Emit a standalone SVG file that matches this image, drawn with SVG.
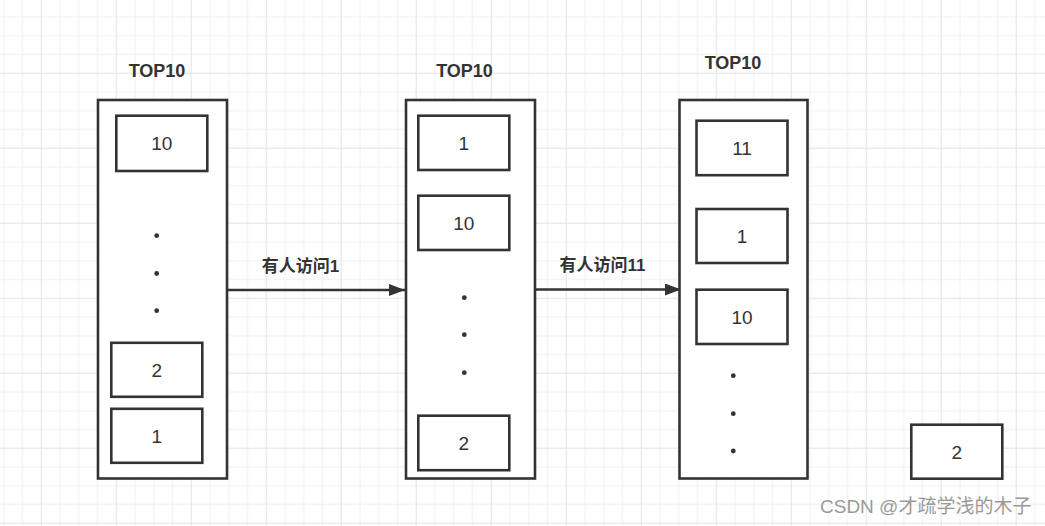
<svg xmlns="http://www.w3.org/2000/svg" width="1045" height="526" viewBox="0 0 1045 526">
  <defs>
    <pattern id="grid" x="40.7" y="72.7" width="75" height="75" patternUnits="userSpaceOnUse">
      <rect x="0" y="0" width="75" height="75" fill="#ffffff"/>
      <rect x="18.75" y="0" width="1" height="75" fill="#f0f0f0"/>
      <rect x="37.5" y="0" width="1" height="75" fill="#f0f0f0"/>
      <rect x="56.25" y="0" width="1" height="75" fill="#f0f0f0"/>
      <rect x="0" y="18.75" width="75" height="1" fill="#f0f0f0"/>
      <rect x="0" y="37.5" width="75" height="1" fill="#f0f0f0"/>
      <rect x="0" y="56.25" width="75" height="1" fill="#f0f0f0"/>
      <rect x="0" y="0" width="1" height="75" fill="#e3e3e3"/>
      <rect x="0" y="0" width="75" height="1" fill="#e3e3e3"/>
    </pattern>
    <marker id="arrow" viewBox="0 0 16 12" refX="16" refY="6" markerWidth="16" markerHeight="12" markerUnits="userSpaceOnUse" orient="auto">
      <path d="M0,0 L16,6 L0,12 Z" fill="#333333"/>
    </marker>
    <style>
      .box { fill: #ffffff; stroke: #333333; stroke-width: 2.6; }
      .dot { fill: #333333; }
      .num { font-family: "Liberation Sans", "Noto Sans CJK SC", sans-serif; font-size: 19px; fill: #333333; text-anchor: middle; }
      .title { font-family: "Liberation Sans", "Noto Sans CJK SC", sans-serif; font-size: 18px; font-weight: bold; fill: #333333; text-anchor: middle; }
      .label { font-family: "Liberation Sans", "Noto Sans CJK SC", sans-serif; font-size: 17px; font-weight: bold; fill: #333333; text-anchor: middle; }
      .edge { fill: none; stroke: #333333; stroke-width: 2.5; }
      .wm { font-family: "Liberation Sans", "Noto Sans CJK SC", sans-serif; font-size: 19px; fill: #9a9a9a; }
    </style>
  </defs>

  <rect x="0" y="0" width="1045" height="526" fill="url(#grid)"/>

  <g id="connectors">
    <line class="edge" x1="228" y1="290" x2="405" y2="290" marker-end="url(#arrow)"/>
    <line class="edge" x1="536" y1="289.5" x2="681" y2="289.5" marker-end="url(#arrow)"/>
    <text class="label" x="300.5" y="271.5">有人访问1</text>
    <text class="label" x="602.5" y="271">有人访问11</text>
  </g>

  <g id="list1">
    <text class="title" x="157" y="77">TOP10</text>
    <rect class="box" x="98" y="100" width="129" height="378.5"/>
    <g id="list1-10">
      <rect class="box" x="116.3" y="115.7" width="91" height="55.3"/>
      <text class="num" x="161.8" y="150">10</text>
    </g>
    <circle class="dot" cx="156.7" cy="235.7" r="2.4"/>
    <circle class="dot" cx="156.7" cy="273.5" r="2.4"/>
    <circle class="dot" cx="156.7" cy="310.7" r="2.4"/>
    <g id="list1-2">
      <rect class="box" x="111.3" y="342.8" width="91" height="54"/>
      <text class="num" x="156.8" y="376.5">2</text>
    </g>
    <g id="list1-1">
      <rect class="box" x="111.3" y="408.8" width="91" height="54"/>
      <text class="num" x="156.8" y="442.5">1</text>
    </g>
  </g>

  <g id="list2">
    <text class="title" x="464.5" y="76.7">TOP10</text>
    <rect class="box" x="406" y="100" width="129" height="378.5"/>
    <g id="list2-1">
      <rect class="box" x="418.3" y="115.7" width="91" height="54.3"/>
      <text class="num" x="463.8" y="149.5">1</text>
    </g>
    <g id="list2-10">
      <rect class="box" x="418.3" y="195.7" width="91" height="54.3"/>
      <text class="num" x="463.8" y="229.5">10</text>
    </g>
    <circle class="dot" cx="464.3" cy="297.7" r="2.4"/>
    <circle class="dot" cx="464.3" cy="334.7" r="2.4"/>
    <circle class="dot" cx="464.3" cy="372.7" r="2.4"/>
    <g id="list2-2">
      <rect class="box" x="418.3" y="415.7" width="91" height="54.5"/>
      <text class="num" x="463.8" y="449.5">2</text>
    </g>
  </g>

  <g id="list3">
    <text class="title" x="733" y="68.5">TOP10</text>
    <rect class="box" x="679.5" y="100" width="128" height="378.5"/>
    <g id="list3-11">
      <rect class="box" x="696.5" y="120.7" width="91" height="54.5"/>
      <text class="num" x="742" y="154.5">11</text>
    </g>
    <g id="list3-1">
      <rect class="box" x="696.5" y="209" width="91" height="54"/>
      <text class="num" x="742" y="242.5">1</text>
    </g>
    <g id="list3-10">
      <rect class="box" x="696.5" y="289.7" width="91" height="54.3"/>
      <text class="num" x="742" y="323.5">10</text>
    </g>
    <circle class="dot" cx="733.3" cy="375.7" r="2.4"/>
    <circle class="dot" cx="733.3" cy="413.7" r="2.4"/>
    <circle class="dot" cx="733.3" cy="451" r="2.4"/>
  </g>

  <g id="item-2">
    <rect class="box" x="911.3" y="424.7" width="91" height="54"/>
    <text class="num" x="956.8" y="458.5">2</text>
  </g>

  <text class="wm" x="820" y="513">CSDN @才疏学浅的木子</text>
</svg>
